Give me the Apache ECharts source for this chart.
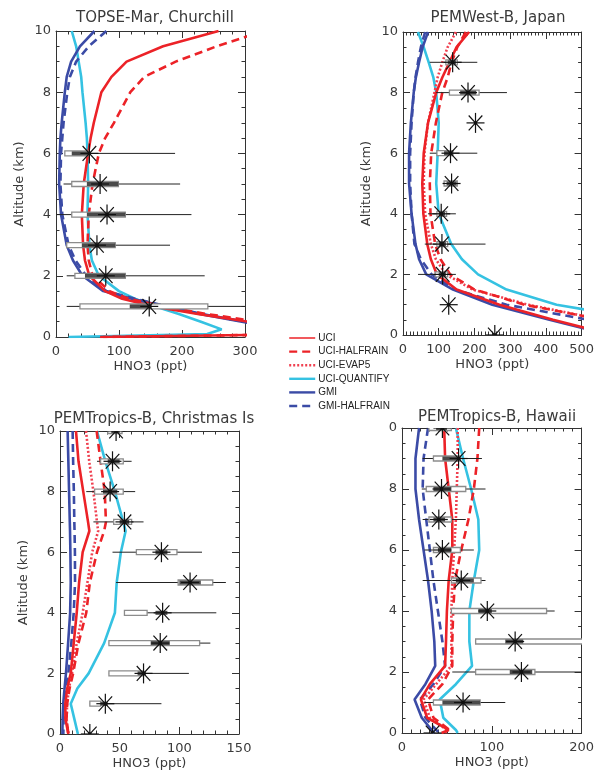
<!DOCTYPE html>
<html>
<head>
<meta charset="utf-8">
<script src="https://cdn.jsdelivr.net/npm/echarts@6/dist/echarts.min.js"></script>
<style>html,body{margin:0;padding:0;background:#fff}#c{width:597px;height:776px}</style>
</head>
<body>
<div id="c"></div>
<script>
// ---------- Data ----------
const models = ['UCI', 'UCI-HALFRAIN', 'UCI-EVAP5', 'UCI-QUANTIFY', 'GMI', 'GMI-HALFRAIN'];
const titles = ['TOPSE-Mar, Churchill', 'PEMWest-B, Japan', 'PEMTropics-B, Christmas Is', 'PEMTropics-B, Hawaii'];
const xMaxes = [300, 500, 150, 200];
const xIntervals = [100, 100, 50, 100];
const yTicks = [0, 2, 4, 6, 8, 10];

// Panel 1: TOPSE-Mar, Churchill (altitude km, HNO3 ppt)
const p1Alt       = [10, 9.5, 9, 8.5, 8, 7, 6.5, 6, 5, 4, 3, 2.5, 2, 1.5, 1.25, 1, 0.75, 0.5, 0.25, 0.1, 0];
const p1UCI       = [258, 170, 112, 88, 72, 60, 55, 51, 44, 41, 43, 46, 53, 78, 105, 155, 225, 305, 380, 420, 70];
const p1HALFRAIN  = [330, 255, 190, 140, 118, 92, 78, 68, 58, 52, 50, 52, 58, 85, 115, 170, 240, 320, 390, 430, 75];
const p1QUANTIFY  = [25, 32, 36, 40, 42, 47, 49, 50, 51, 50, 53, 57, 68, 100, 125, 158, 195, 230, 263, 240, 20];
const p1GMI       = [61, 38, 24, 17, 14, 9, 7, 6, 5, 8, 17, 27, 42, 75, 120, 175, 228, 295, 360, 400, 420];
const p1GMIHALF   = [80, 52, 32, 22, 18, 12, 10, 8, 7, 10, 20, 31, 48, 80, 125, 178, 232, 300, 365, 405, 425];
// observations: [alt, median, min, max, boxLo, boxHi, darkLo, darkHi]
const p1Obs = [
  [6, 53, 14, 189, 14, 51, 25, 51],
  [5, 70, 12, 197, 25, 99, 49, 99],
  [4, 81, 1, 215, 25, 110, 49, 110],
  [3, 65, 17, 181, 17, 94, 41, 94],
  [2, 79, 17, 236, 30, 110, 46, 110],
  [1, 148, 17, 310, 38, 241, 117, 152]
];

// Panel 2: PEMWest-B, Japan
const p2Alt       = [10, 9.5, 9, 8.5, 8, 7, 6, 5, 4, 3, 2.5, 2, 1.5, 1, 0.5, 0];
const p2UCI       = [185, 150, 130, 110, 93, 70, 58, 54, 57, 68, 78, 95, 150, 270, 420, 590];
const p2HALFRAIN  = [176, 152, 136, 125, 110, 92, 79, 75, 77, 90, 105, 132, 200, 340, 560, 700];
const p2EVAP5     = [148, 125, 110, 97, 88, 70, 60, 58, 62, 78, 92, 120, 195, 350, 560, 700];
const p2QUANTIFY  = [42, 58, 72, 85, 93, 100, 97, 93, 100, 135, 165, 210, 290, 430, 680, 800];
const p2GMI       = [70, 55, 45, 36, 30, 22, 17, 17, 24, 35, 45, 65, 140, 250, 410, 580];
const p2GMIHALF   = [62, 50, 42, 35, 30, 24, 20, 20, 24, 32, 50, 80, 145, 290, 520, 650];
const p2Obs = [
  [9, 139, 75, 208, 120, 152, 125, 148],
  [8, 182, 93, 291, 130, 213, 160, 205],
  [7, 203, null, null, null, null, null, null],
  [6, 133, 75, 208, 95, 140, 115, 140],
  [5, 136, null, null, 115, 152, 122, 150],
  [4, 107, 70, 148, 95, 122, 100, 118],
  [3, 109, 61, 231, 95, 125, 100, 120],
  [2, 111, 42, 148, 90, 125, 100, 120],
  [1, 128, null, null, null, null, null, null],
  [0, 257, null, null, null, null, null, null]
];

// Panel 3: PEMTropics-B, Christmas Is
const p3Alt       = [10, 9, 8, 7, 6.7, 6, 5, 4, 3, 2, 1.5, 1, 0.5, 0];
const p3UCI       = [13.4, 15.5, 19.5, 23.5, 24.6, 19, 16, 14, 11.5, 9, 6, 4.5, 4.5, 7];
const p3HALFRAIN  = [30.7, 34, 37.5, 38.5, 37, 31, 25, 22, 15.5, 11, 8, 6, 5.5, 7];
const p3EVAP5     = [21.8, 24.5, 28, 31, 32, 27, 23, 19, 14, 10, 7.5, 6, 5.5, 7];
const p3QUANTIFY  = [31, 38, 46, 53, 55, 51, 47.5, 46, 37, 24, 14.5, 9, 12, 15];
const p3GMI       = [6.4, 7, 7.6, 8.2, 8.4, 8.7, 9, 8.5, 6.8, 5, 3.8, 2.7, 2.2, 2];
const p3GMIHALF   = [10.6, 11, 11.6, 12, 12.2, 12.5, 12.6, 11.5, 9.5, 7, 5, 3.8, 3, 2.8];
const p3Obs = [
  [10, 47, 36, 56, 40, 52, 43, 50],
  [9, 44, 31, 60, 34, 53, 40, 50],
  [8, 42, 22, 63, 29, 53, 36, 48],
  [7, 54, 28, 70, 45, 60, 50, 58],
  [6, 85, 44, 119, 64, 98, 80, 90],
  [5, 109, 47, 139, 99, 128, 100, 118],
  [4, 86, 54, 131, 54, 73, 80, 90],
  [3, 84, 41, 126, 41, 117, 76, 92],
  [2, 70, 41, 108, 41, 70, 65, 72],
  [1, 38, 25, 85, 25, 34, 34, 40],
  [0, 25, null, null, null, null, null, null]
];

// Panel 4: PEMTropics-B, Hawaii
const p4Alt       = [10, 9, 8, 7, 6, 5, 4, 3, 2.2, 1.6, 1.1, 0.5, 0.1, 0];
const p4UCI       = [47, 48, 52, 56, 56, 52, 50, 49, 48, 31, 21, 28, 52, 44];
const p4HALFRAIN  = [86, 84, 80, 74, 66, 59, 57, 56, 56, 45, 29, 35, 53, 50];
const p4EVAP5     = [62, 62, 61, 60, 58, 56, 55, 55, 55, 38, 24, 31, 50, 48];
const p4QUANTIFY  = [60, 68, 77, 85, 86, 80, 75, 75, 78, 60, 42, 46, 60, 62];
const p4GMI       = [19, 15, 15, 19, 24, 29, 33, 36, 37, 26, 14, 22, 33, 36];
const p4GMIHALF   = [29, 24, 23, 27, 31, 35, 40, 45, 48, 35, 20, 26, 38, 42];
const p4Obs = [
  [10, 45, 20, 60, 30, 55, 38, 50],
  [9, 63, 23, 89, 35, 65, 45, 65],
  [8, 44, 22, 93, 27, 71, 35, 55],
  [7, 41, 23, 71, 30, 55, 35, 48],
  [6, 45, 25, 80, 35, 65, 40, 55],
  [5, 66, 23, 93, 55, 88, 60, 80],
  [4, 95, 55, 170, 55, 161, 85, 100],
  [3, 126, 82, 215, 82, 215, 115, 135],
  [2, 133, 56, 215, 82, 148, 120, 145],
  [1, 68, 25, 115, 35, 87, 45, 87],
  [0, 34, null, null, null, null, null, null]
];

// ---------- Build ----------
const panelAlt = [p1Alt, p2Alt, p3Alt, p4Alt];
const panelLines = [
  {'UCI': p1UCI, 'UCI-HALFRAIN': p1HALFRAIN, 'UCI-QUANTIFY': p1QUANTIFY, 'GMI': p1GMI, 'GMI-HALFRAIN': p1GMIHALF},
  {'UCI': p2UCI, 'UCI-HALFRAIN': p2HALFRAIN, 'UCI-EVAP5': p2EVAP5, 'UCI-QUANTIFY': p2QUANTIFY, 'GMI': p2GMI, 'GMI-HALFRAIN': p2GMIHALF},
  {'UCI': p3UCI, 'UCI-HALFRAIN': p3HALFRAIN, 'UCI-EVAP5': p3EVAP5, 'UCI-QUANTIFY': p3QUANTIFY, 'GMI': p3GMI, 'GMI-HALFRAIN': p3GMIHALF},
  {'UCI': p4UCI, 'UCI-HALFRAIN': p4HALFRAIN, 'UCI-EVAP5': p4EVAP5, 'UCI-QUANTIFY': p4QUANTIFY, 'GMI': p4GMI, 'GMI-HALFRAIN': p4GMIHALF}
];
const panelObs = [p1Obs, p2Obs, p3Obs, p4Obs];

const grids = [
  {left: 56, top: 31, width: 189, height: 306},
  {left: 403, top: 32, width: 181, height: 303},
  {left: 60, top: 431, width: 179, height: 303},
  {left: 402, top: 428, width: 182, height: 305}
];
const xMinorSplit = [5, 10, 5, 10];
const titlePos = [[150, 6], [493, 6], [149, 407], [492, 405]];
const yNameShow = [true, true, true, false];

const styles = {
  'UCI':          {color: '#ec2227', type: 'solid', width: 2.6},
  'UCI-HALFRAIN': {color: '#ec2227', type: [8, 5], width: 2.6},
  'UCI-EVAP5':    {color: '#f04050', type: [2, 2], width: 2.6},
  'UCI-QUANTIFY': {color: '#35c2e2', type: 'solid', width: 2.6},
  'GMI':          {color: '#3b4ba6', type: 'solid', width: 2.6},
  'GMI-HALFRAIN': {color: '#3b4ba6', type: [8, 5], width: 2.6}
};
const drawOrder = ['UCI-QUANTIFY', 'GMI', 'GMI-HALFRAIN', 'UCI-EVAP5', 'UCI-HALFRAIN', 'UCI'];

const FONT = 'DejaVu Sans';
const axisColor = '#333';
const textColor = '#3a3a3a';
const xAxes = [], yAxes = [], series = [], titleArr = [];

function baseAxis(i) {
  return {
    type: 'value', gridIndex: i,
    axisLine: {show: true, onZero: false, lineStyle: {color: axisColor, width: 1}},
    axisTick: {show: true, inside: true, length: 7, lineStyle: {color: axisColor, width: 1}},
    splitLine: {show: false}
  };
}

for (let i = 0; i < 4; i++) {
  const xb = Object.assign(baseAxis(i), {
    min: 0, max: xMaxes[i], interval: xIntervals[i],
    minorTick: {show: true, splitNumber: xMinorSplit[i], length: 3.5, lineStyle: {color: axisColor}}
  });
  xAxes.push(Object.assign({}, xb, {
    position: 'bottom',
    axisLabel: {show: true, color: textColor, fontSize: 13, fontFamily: FONT, margin: 8},
    name: 'HNO3 (ppt)', nameLocation: 'middle', nameGap: 23,
    nameTextStyle: {color: textColor, fontSize: 13, fontFamily: FONT}
  }));
  xAxes.push(Object.assign({}, xb, {position: 'top', axisLabel: {show: false}}));

  const yb = Object.assign(baseAxis(i), {
    min: 0, max: 10, interval: 2,
    minorTick: {show: true, splitNumber: 4, length: 3.5, lineStyle: {color: axisColor}}
  });
  const yLeft = Object.assign({}, yb, {
    position: 'left',
    axisLabel: {show: true, color: textColor, fontSize: 13, fontFamily: FONT, margin: 5,
      formatter: (i === 3) ? (v) => (v === 10 ? '0' : String(v)) : null}
  });
  if (yNameShow[i]) {
    Object.assign(yLeft, {name: 'Altitude (km)', nameLocation: 'middle', nameGap: 30,
      nameTextStyle: {color: textColor, fontSize: 13, fontFamily: FONT}});
  }
  yAxes.push(yLeft);
  yAxes.push(Object.assign({}, yb, {position: 'right', axisLabel: {show: false}}));

  titleArr.push({
    text: titles[i], left: titlePos[i][0], top: titlePos[i][1], textAlign: 'center',
    textStyle: {color: textColor, fontSize: 15, fontWeight: 'normal', fontFamily: FONT}
  });

  const alt = panelAlt[i];
  const lines = panelLines[i];
  drawOrder.forEach((m) => {
    if (!lines[m]) return;
    const st = styles[m];
    series.push({
      type: 'line', name: m, xAxisIndex: 2 * i, yAxisIndex: 2 * i,
      data: alt.map((a, k) => [lines[m][k], a]),
      symbol: 'none', smooth: false, clip: true, z: 2,
      itemStyle: {color: st.color},
      lineStyle: {color: st.color, type: st.type, width: st.width},
      emphasis: {disabled: true}
    });
  });

  series.push({
    type: 'custom', name: 'obs' + i, xAxisIndex: 2 * i, yAxisIndex: 2 * i,
    clip: true, z: 5, silent: true,
    encode: {x: 1, y: 0},
    data: panelObs[i].map(r => r.map(v => (v === null ? '-' : v))),
    renderItem: function (params, api) {
      const alt = api.value(0), med = api.value(1);
      const ok = (v) => typeof v === 'number' && isFinite(v);
      const children = [];
      const c = api.coord([med, alt]);
      const wmin = api.value(2), wmax = api.value(3);
      if (ok(wmin) && ok(wmax)) {
        const a = api.coord([wmin, alt]), b = api.coord([wmax, alt]);
        children.push({type: 'line', shape: {x1: a[0], y1: a[1], x2: b[0], y2: b[1]},
          style: {stroke: '#222', lineWidth: 1}});
      }
      const bl = api.value(4), bh = api.value(5);
      if (ok(bl) && ok(bh)) {
        const a = api.coord([bl, alt]), b = api.coord([bh, alt]);
        children.push({type: 'rect', shape: {x: a[0], y: a[1] - 2.5, width: b[0] - a[0], height: 5},
          style: {fill: '#fff', stroke: '#8c8c8c', lineWidth: 1.3}});
      }
      const dl = api.value(6), dh = api.value(7);
      if (ok(dl) && ok(dh)) {
        const a = api.coord([dl, alt]), b = api.coord([dh, alt]);
        children.push({type: 'rect', shape: {x: a[0], y: a[1] - 2, width: b[0] - a[0], height: 4},
          style: {fill: '#4a4a4a'}});
      }
      const r = 10;
      const arms = [[0, r], [r * 0.9, 0], [r * 0.68, r * 0.74], [r * 0.68, -r * 0.74]];
      arms.forEach(([dx, dy]) => {
        children.push({type: 'line', shape: {x1: c[0] - dx, y1: c[1] - dy, x2: c[0] + dx, y2: c[1] + dy},
          style: {stroke: '#111', lineWidth: 1.2}});
      });
      children.push({type: 'circle', shape: {cx: c[0], cy: c[1], r: 1.8}, style: {fill: '#111'}});
      return {type: 'group', children: children};
    }
  });
}

const legendData = models.map(m => ({
  name: m,
  itemStyle: {opacity: 0},
  lineStyle: {color: styles[m].color, type: styles[m].type, width: m === 'UCI' ? 1.5 : 2.4}
}));

const chart = echarts.init(document.getElementById('c'), null, {renderer: 'canvas'});
chart.setOption({
  animation: false,
  backgroundColor: '#fff',
  title: titleArr,
  grid: grids,
  xAxis: xAxes,
  yAxis: yAxes,
  legend: {
    data: legendData, orient: 'vertical', left: 283, top: 328,
    itemWidth: 26, itemHeight: 10, itemGap: 3.6,
    itemStyle: {opacity: 0},
    textStyle: {color: '#222', fontSize: 10, fontFamily: 'Liberation Sans', padding: [0, 0, 0, -2]},
    selectedMode: false
  },
  series: series
});
</script>
</body>
</html>
